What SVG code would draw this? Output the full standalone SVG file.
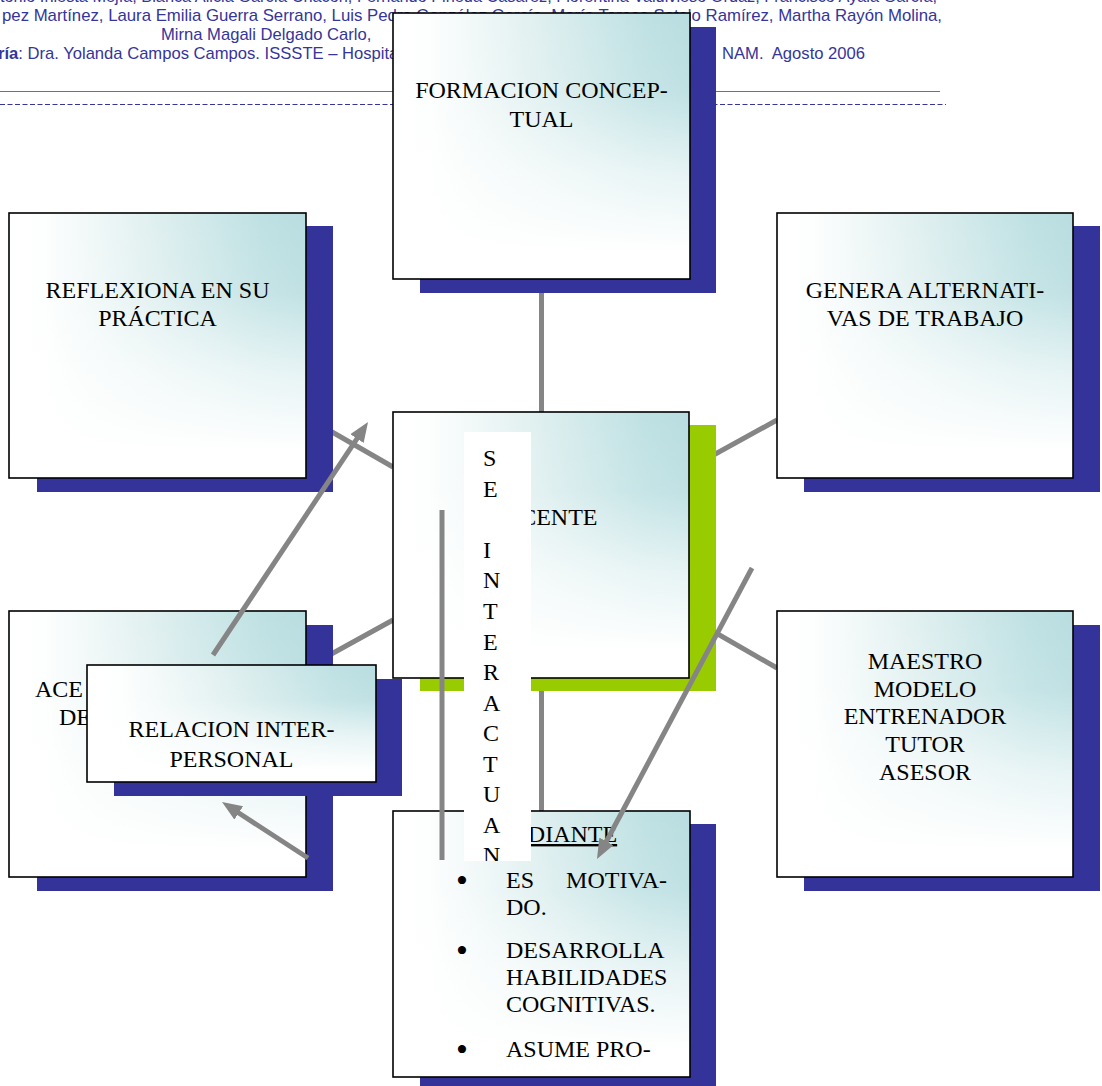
<svg xmlns="http://www.w3.org/2000/svg" width="1102" height="1086" viewBox="0 0 1102 1086">
  <defs>
    <style>
      .hdr{font-family:"Liberation Sans",Arial,sans-serif;font-size:16.6px;fill:#35359a}
      .sb{fill:#333399}
      .sg{fill:#99cc00}
      .face{fill:url(#gh)}
      .fade{fill:url(#gv)}
      .frame{fill:none;stroke:#000;stroke-width:1.6}
      .t{font-family:"Liberation Serif","Times New Roman",serif;font-size:24px;fill:#000}
      .tc{text-anchor:middle}
      .bul{font-family:"Liberation Serif","Times New Roman",serif;font-size:34px;fill:#000}
      .conn{stroke:#858585;stroke-width:5;fill:none}
      .arrow{stroke:#858585;stroke-width:5;fill:none;marker-end:url(#ah)}
    </style>
    <linearGradient id="gh" x1="0" y1="0" x2="1" y2="0">
      <stop offset="0" stop-color="#ffffff"/>
      <stop offset="0.12" stop-color="#fdfefe"/>
      <stop offset="0.45" stop-color="#e3f1f1"/>
      <stop offset="0.85" stop-color="#bfe1e3"/>
      <stop offset="1" stop-color="#b8dde0"/>
    </linearGradient>
    <linearGradient id="gv" x1="0" y1="0" x2="0" y2="1">
      <stop offset="0" stop-color="#ffffff" stop-opacity="0"/>
      <stop offset="0.3" stop-color="#ffffff" stop-opacity="0.12"/>
      <stop offset="0.6" stop-color="#ffffff" stop-opacity="0.65"/>
      <stop offset="0.9" stop-color="#ffffff" stop-opacity="1"/>
      <stop offset="1" stop-color="#ffffff" stop-opacity="1"/>
    </linearGradient>
    <marker id="ah" markerUnits="userSpaceOnUse" markerWidth="22" markerHeight="18" refX="10" refY="8" orient="auto">
      <path d="M0,0 L20,8 L0,16 z" fill="#858585"/>
    </marker>
    <clipPath id="stripclip"><rect x="464" y="432" width="67" height="429"/></clipPath>
  </defs>

  <g id="header">
    <text class="hdr" x="0" y="2" textLength="937" lengthAdjust="spacingAndGlyphs">tonio Iniesta Mejía, Blanca Alicia García Chacón, Fernando Pineda Casarez, Florentina Valdivieso Ordaz, Francisco Ayala García,</text>
    <text class="hdr" x="2" y="21" textLength="940" lengthAdjust="spacingAndGlyphs">pez Martínez, Laura Emilia Guerra Serrano, Luis Pedro González García, María Teresa Sotelo Ramírez, Martha Rayón Molina,</text>
    <text class="hdr" x="161" y="40">Mirna Magali Delgado Carlo,</text>
    <text class="hdr" x="-2" y="59"><tspan font-weight="bold">ría</tspan>: Dra. Yolanda Campos Campos. ISSSTE – Hospital</text>
    <text class="hdr" x="865" y="59" text-anchor="end" xml:space="preserve">NAM.  Agosto 2006</text>
    <line x1="0" y1="91.5" x2="940" y2="91.5" stroke="#6a6ab0" stroke-width="1"/>
    <line x1="0" y1="104.5" x2="946" y2="104.5" stroke="#35359a" stroke-width="1" stroke-dasharray="5 2.5"/>
  </g>

  <g id="connectors">
    <line class="conn" x1="541.5" y1="279" x2="541.5" y2="412"/>
    <line class="conn" x1="541.5" y1="678" x2="541.5" y2="811"/>
    <line class="conn" x1="306" y1="417" x2="393" y2="467"/>
    <line class="conn" x1="306" y1="668" x2="393" y2="620"/>
    <line class="conn" x1="690" y1="468" x2="777" y2="420"/>
    <line class="conn" x1="690" y1="618" x2="777" y2="668"/>
  </g>

  <g id="node-reflexiona">
    <rect class="sb" x="37" y="226" width="296" height="266"/>
    <rect class="face" x="9" y="213" width="297" height="265"/>
    <rect class="fade" x="9" y="213" width="297" height="265"/>
    <rect class="frame" x="9" y="213" width="297" height="265"/>
    <text class="t tc" x="157.5" y="298">REFLEXIONA EN SU</text>
    <text class="t tc" x="157.5" y="326">PRÁCTICA</text>
  </g>

  <g id="node-genera">
    <rect class="sb" x="804" y="226" width="296" height="266"/>
    <rect class="face" x="777" y="213" width="296" height="265"/>
    <rect class="fade" x="777" y="213" width="296" height="265"/>
    <rect class="frame" x="777" y="213" width="296" height="265"/>
    <text class="t tc" x="925" y="298">GENERA ALTERNATI-</text>
    <text class="t tc" x="925" y="326">VAS DE TRABAJO</text>
  </g>

  <g id="node-formacion">
    <rect class="sb" x="420" y="27" width="296" height="266"/>
    <rect class="face" x="393" y="13" width="297" height="266"/>
    <rect class="fade" x="393" y="13" width="297" height="266"/>
    <rect class="frame" x="393" y="13" width="297" height="266"/>
    <text class="t tc" x="541.5" y="98">FORMACION CONCEP-</text>
    <text class="t tc" x="541.5" y="127">TUAL</text>
  </g>

  <g id="node-docente">
    <rect class="sg" x="420" y="425" width="296" height="266"/>
    <rect class="face" x="393" y="412" width="296" height="266"/>
    <rect class="fade" x="393" y="412" width="296" height="266"/>
    <rect class="frame" x="393" y="412" width="296" height="266"/>
    <text class="t tc" x="541.5" y="525">DOCENTE</text>
  </g>

  <g id="node-acepta">
    <rect class="sb" x="37" y="625" width="296" height="266"/>
    <rect class="face" x="9" y="611" width="297" height="266"/>
    <rect class="fade" x="9" y="611" width="297" height="266"/>
    <rect class="frame" x="9" y="611" width="297" height="266"/>
    <text class="t" x="35" y="697">ACE</text>
    <text class="t" x="59" y="725">DE</text>
  </g>

  <g id="node-maestro">
    <rect class="sb" x="804" y="625" width="296" height="266"/>
    <rect class="face" x="777" y="611" width="296" height="266"/>
    <rect class="fade" x="777" y="611" width="296" height="266"/>
    <rect class="frame" x="777" y="611" width="296" height="266"/>
    <text class="t tc" x="925" y="669">MAESTRO</text>
    <text class="t tc" x="925" y="697">MODELO</text>
    <text class="t tc" x="925" y="724">ENTRENADOR</text>
    <text class="t tc" x="925" y="752">TUTOR</text>
    <text class="t tc" x="925" y="780">ASESOR</text>
  </g>

  <g id="node-estudiante">
    <rect class="sb" x="420" y="824" width="296" height="266"/>
    <rect class="face" x="393" y="811" width="297" height="266"/>
    <rect class="fade" x="393" y="811" width="297" height="266"/>
    <rect class="frame" x="393" y="811" width="297" height="266"/>
    <text class="t tc" x="542.5" y="842" text-decoration="underline">ESTUDIANTE</text>
    <text class="bul" x="456" y="892">•</text>
    <text class="t" x="506" y="888">ES</text>
    <text class="t" x="667" y="888" text-anchor="end">MOTIVA-</text>
    <text class="t" x="506" y="915">DO.</text>
    <text class="bul" x="456" y="962">•</text>
    <text class="t" x="506" y="958">DESARROLLA</text>
    <text class="t" x="506" y="985">HABILIDADES</text>
    <text class="t" x="506" y="1012">COGNITIVAS.</text>
    <text class="bul" x="456" y="1061">•</text>
    <text class="t" x="506" y="1057">ASUME PRO-</text>
  </g>

  <g id="node-relacion">
    <rect class="sb" x="114" y="679" width="288" height="117"/>
    <rect class="face" x="87" y="665" width="289" height="117"/>
    <rect class="fade" x="87" y="665" width="289" height="117"/>
    <rect class="frame" x="87" y="665" width="289" height="117"/>
    <text class="t tc" x="231.5" y="737" font-size="26">RELACION INTER-</text>
    <text class="t tc" x="231.5" y="767" font-size="26">PERSONAL</text>
  </g>

  <g id="node-se-interactuan">
    <rect x="464" y="432" width="67" height="429" fill="#ffffff"/>
    <g clip-path="url(#stripclip)">
      <text class="t" x="483" y="466">S</text>
      <text class="t" x="483" y="497">E</text>
      <text class="t" x="483" y="558">I</text>
      <text class="t" x="483" y="588">N</text>
      <text class="t" x="483" y="619">T</text>
      <text class="t" x="483" y="650">E</text>
      <text class="t" x="483" y="680">R</text>
      <text class="t" x="483" y="711">A</text>
      <text class="t" x="483" y="741">C</text>
      <text class="t" x="483" y="772">T</text>
      <text class="t" x="483" y="802">U</text>
      <text class="t" x="483" y="833">A</text>
      <text class="t" x="483" y="863">N</text>
    </g>
  </g>

  <g id="arrows">
    <line class="arrow" x1="213" y1="655" x2="362.5" y2="430.3"/>
    <line class="arrow" x1="308" y1="858" x2="230.4" y2="807.5"/>
    <line class="arrow" x1="752" y1="568" x2="601.7" y2="850.2"/>
    <line class="conn" x1="442" y1="510" x2="442" y2="860"/>
  </g>
</svg>
